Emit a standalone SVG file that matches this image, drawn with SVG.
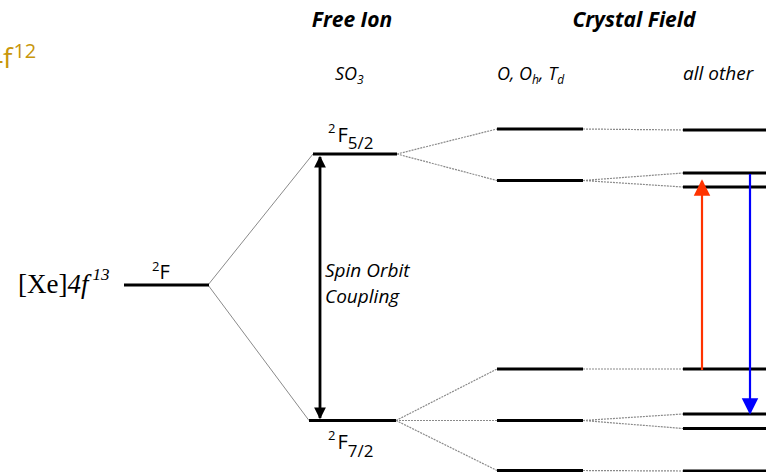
<svg xmlns="http://www.w3.org/2000/svg" width="766" height="472" viewBox="0 0 766 472">
<style>
.lvl{stroke:#000;stroke-width:2.8;fill:none}
.cn{stroke:#8a8a8a;stroke-width:1;fill:none}
.dt{stroke:#8a8a8a;stroke-width:1.2;stroke-dasharray:2 1;fill:none}
.sans{font-family:"Open Sans","Liberation Sans",sans-serif}
.ti{font-family:"Open Sans","Liberation Sans",sans-serif;font-style:italic}
</style>
<defs>
<marker id="hb" viewBox="0 0 10 10" refX="9" refY="5" markerWidth="4.2" markerHeight="4.6" markerUnits="strokeWidth" orient="auto-start-reverse"><path d="M0,0L10,5L0,10z" fill="#000"/></marker>
<marker id="hr" viewBox="0 0 10 10" refX="9" refY="5" markerWidth="7.5" markerHeight="8" markerUnits="strokeWidth" orient="auto"><path d="M0,0L10,5L0,10z" fill="#ff3300"/></marker>
<marker id="hu" viewBox="0 0 10 10" refX="9" refY="5" markerWidth="7.5" markerHeight="8" markerUnits="strokeWidth" orient="auto"><path d="M0,0L10,5L0,10z" fill="#0000ff"/></marker>
</defs>
<text x="-13" y="68" class="sans" font-size="28" fill="#c8960a">4f<tspan dy="-10.5" dx="1" font-size="20">12</tspan></text>
<text x="352" y="27" class="ti" font-size="21" font-weight="bold" text-anchor="middle">Free Ion</text>
<text x="634" y="27" class="ti" font-size="21" font-weight="bold" text-anchor="middle">Crystal Field</text>
<text x="335" y="80" class="ti" font-size="18">SO<tspan dy="4" font-size="12">3</tspan></text>
<text x="497" y="80" class="ti" font-size="18">O, O<tspan dy="4" font-size="12">h</tspan><tspan dy="-4">, T</tspan><tspan dy="4" font-size="12">d</tspan></text>
<text x="683" y="80" class="ti" font-size="19">all other</text>
<g id="connectors">
<path class="cn" d="M208,285L313,154M208,285L309,420.5"/>
<path class="dt" d="M397,154L497,129M397,154L497,180.5M396,420.5L497,369M396,420.5L497,420.5M396,420.5L497,470.5"/>
<path class="dt" d="M583,129L683,130M583,180.5L683,173M583,180.5L683,187M583,369L683,369M583,420.5L683,414M583,420.5L683,428.5M583,470.5L683,471"/>
</g>
<g id="ground">
<text x="18" y="293" font-family="'Liberation Serif',serif" font-size="27">[Xe]<tspan font-style="italic">4f</tspan><tspan font-style="italic" font-size="17" dy="-13" dx="4">13</tspan></text>
<line class="lvl" x1="124" y1="285" x2="209" y2="285"/>
<text x="152" y="279" class="sans" font-size="20"><tspan font-size="13" dy="-8">2</tspan><tspan dy="8">F</tspan></text>
</g>
<g id="F52">
<line class="lvl" x1="313" y1="154" x2="397" y2="154"/>
<text x="328" y="142" class="sans" font-size="20"><tspan font-size="13" dy="-9">2</tspan><tspan dy="9" dx="2">F</tspan><tspan font-size="17" dy="7">5/2</tspan></text>
</g>
<g id="F72">
<line class="lvl" x1="309" y1="420.5" x2="396" y2="420.5"/>
<text x="328" y="449" class="sans" font-size="20"><tspan font-size="13" dy="-9">2</tspan><tspan dy="9" dx="2">F</tspan><tspan font-size="17" dy="8">7/2</tspan></text>
</g>
<g id="soc">
<line x1="320" y1="157" x2="320" y2="418" stroke="#000" stroke-width="2.8" marker-start="url(#hb)" marker-end="url(#hb)"/>
<text x="325" y="277" class="ti" font-size="19">Spin Orbit</text>
<text x="325" y="303" class="ti" font-size="19">Coupling</text>
</g>
<g id="cubic">
<path class="lvl" d="M497,129H583M497,180.5H583M497,369H583M497,420.5H583M497,470.5H583"/>
</g>
<g id="lowsym">
<path class="lvl" d="M683,130H766M683,173H766M683,187H766M683,369H766M683,414H766M683,428.5H766M683,471H766"/>
</g>
<g id="transitions">
<line x1="702" y1="370" x2="702" y2="181" stroke="#ff3300" stroke-width="2.2" marker-end="url(#hr)"/>
<line x1="750" y1="174" x2="750" y2="413" stroke="#0000ff" stroke-width="2.2" marker-end="url(#hu)"/>
</g>
</svg>
